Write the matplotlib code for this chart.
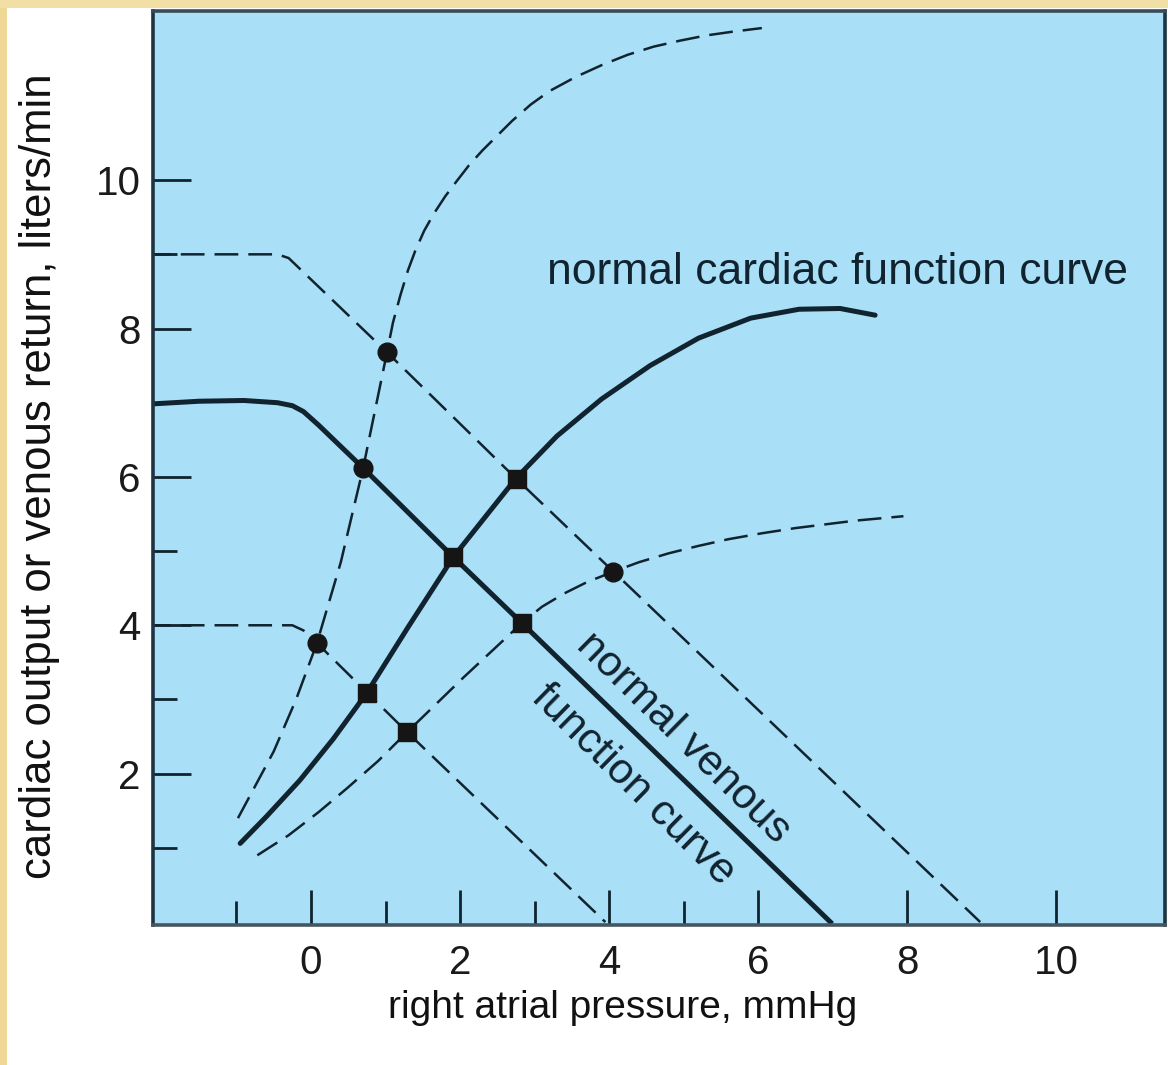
import matplotlib
matplotlib.use("Agg")
import matplotlib.pyplot as plt
from matplotlib.patches import Rectangle
from matplotlib.ticker import FixedLocator, NullFormatter

# --------------------------------------------------
# Data (x = right atrial pressure, y = flow)
# --------------------------------------------------
venous_normal_x = [-2.2, -1.5, -0.9, -0.45, -0.25, -0.1, 0.1, 0.70, 1.91, 2.83, 6.97]
venous_normal_y = [6.98, 7.02, 7.03, 7.0, 6.96, 6.88, 6.70, 6.12, 4.92, 4.03, 0.0]

venous_high_x = [-2.2, -0.45, -0.3, 1.02, 2.77, 8.98]
venous_high_y = [9.0, 9.0, 8.95, 7.68, 5.96, 0.0]

venous_low_x = [-2.2, -0.25, -0.1, 0.08, 1.29, 3.95]
venous_low_y = [4.0, 4.0, 3.93, 3.76, 2.56, 0.0]

cardiac_normal_x = [-0.95, -0.6, -0.15, 0.3, 0.75, 1.3, 1.91, 2.75, 3.3, 3.9,
                    4.55, 5.2, 5.9, 6.55, 7.1, 7.57]
cardiac_normal_y = [1.06, 1.42, 1.91, 2.47, 3.09, 3.97, 4.92, 5.98, 6.55, 7.05,
                    7.5, 7.87, 8.14, 8.26, 8.27, 8.18]

cardiac_high_x = [-0.98, -0.5, -0.2, 0.08, 0.4, 0.70, 1.02, 1.1, 1.2, 1.3, 1.4,
                  1.52, 1.65, 1.8, 1.95, 2.12, 2.3, 2.5, 2.7, 2.95, 3.2, 3.55,
                  3.9, 4.25, 4.6, 4.95, 5.3, 5.65, 6.05]
cardiac_high_y = [1.40, 2.3, 3.0, 3.76, 4.85, 6.12, 7.68, 8.08, 8.45, 8.78, 9.05,
                  9.32, 9.55, 9.78, 9.98, 10.2, 10.4, 10.6, 10.8, 11.02, 11.2, 11.39,
                  11.55, 11.69, 11.8, 11.88, 11.95, 12.0, 12.05]

cardiac_low_x = [-0.72, -0.3, 0.1, 0.48, 0.9, 1.29, 2.05, 2.83, 3.1, 3.4, 3.7, 4.05,
                 4.4, 4.8, 5.2, 5.6, 6.05, 6.5, 6.9, 7.3, 7.95]
cardiac_low_y = [0.90, 1.17, 1.48, 1.8, 2.17, 2.56, 3.3, 4.03, 4.25, 4.43, 4.58, 4.72,
                 4.85, 4.97, 5.07, 5.16, 5.24, 5.31, 5.36, 5.41, 5.47]

# equilibrium points where the curves cross
eq_x = [1.02, 0.70, 2.76, 1.91, 2.83, 4.05, 0.08, 0.75, 1.29]
eq_y = [7.68, 6.12, 5.97, 4.92, 4.03, 4.72, 3.76, 3.09, 2.56]
eq_marker = ["o", "o", "s", "s", "s", "o", "o", "s", "s"]

x_major = [0, 2, 4, 6, 8, 10]
x_minor = [-1, 1, 3, 5]
y_major = [2, 4, 6, 8, 10]
y_minor = [1, 3, 5, 7, 9]

INK = "#10232f"
BLUE = "#a9dff7"


def main():
    plt.rcParams["font.family"] = ["Liberation Sans", "DejaVu Sans"]

    fig = plt.figure(figsize=(11.68, 10.65), dpi=100, facecolor="white")

    # cream edge on top and left
    fig.patches.append(Rectangle((0, 0), 7 / 1168, 1, transform=fig.transFigure,
                                 facecolor="#efd796", edgecolor="none", zorder=0))
    fig.patches.append(Rectangle((0, 1 - 8 / 1065), 1, 8 / 1065, transform=fig.transFigure,
                                 facecolor="#f2dfa6", edgecolor="none", zorder=0))

    ax = fig.add_axes([153 / 1168, 140 / 1065, 1012 / 1168, 914 / 1065])
    ax.set_facecolor(BLUE)
    ax.set_xlim(-2.12, 11.46)
    ax.set_ylim(-0.04, 12.28)

    dash = (0, (9.5, 4.0))
    lw_d = 1.8
    lw_s = 3.6

    # venous return curves
    ax.plot(venous_normal_x, venous_normal_y, color=INK, lw=lw_s, solid_joinstyle="round")
    ax.plot(venous_high_x, venous_high_y, color=INK, lw=lw_d, linestyle=dash)
    ax.plot(venous_low_x, venous_low_y, color=INK, lw=lw_d, linestyle=dash)

    # cardiac function curves
    ax.plot(cardiac_normal_x, cardiac_normal_y, color=INK, lw=lw_s,
            solid_joinstyle="round", solid_capstyle="round")
    ax.plot(cardiac_high_x, cardiac_high_y, color=INK, lw=lw_d, linestyle=dash)
    ax.plot(cardiac_low_x, cardiac_low_y, color=INK, lw=lw_d, linestyle=dash)

    for x, y, m in zip(eq_x, eq_y, eq_marker):
        ms = 13.5 if m == "o" else 12.5
        ax.plot([x], [y], marker=m, ms=ms, color="#151515", mec="#151515", zorder=5)

    # text labels
    ax.text(4.99, 2.48, "normal venous", rotation=-44.5, rotation_mode="anchor",
            ha="center", va="center", fontsize=31, color=INK)
    ax.text(4.32, 1.85, "function curve", rotation=-44.5, rotation_mode="anchor",
            ha="center", va="center", fontsize=31, color=INK)
    ax.text(7.06, 8.76, "normal cardiac function curve", ha="center", va="center",
            fontsize=32, color=INK)

    # axes styling
    for side, col in [("left", "#1d3542"), ("right", "#1d3542"),
                      ("top", "#3a4b55"), ("bottom", "#47565e")]:
        ax.spines[side].set_color(col)
        ax.spines[side].set_linewidth(2.6)

    ax.xaxis.set_major_locator(FixedLocator(x_major))
    ax.xaxis.set_minor_locator(FixedLocator(x_minor))
    ax.yaxis.set_major_locator(FixedLocator(y_major))
    ax.yaxis.set_minor_locator(FixedLocator(y_minor))
    ax.xaxis.set_minor_formatter(NullFormatter())
    ax.yaxis.set_minor_formatter(NullFormatter())

    ax.tick_params(axis="both", which="both", direction="in", color=INK, width=2.0,
                   labelsize=29, labelcolor="#1a1a1a")
    ax.tick_params(axis="x", which="major", length=25, pad=14)
    ax.tick_params(axis="x", which="minor", length=17)
    ax.tick_params(axis="y", which="major", length=27, pad=9)
    ax.tick_params(axis="y", which="minor", length=17)

    fig.text(623 / 1168, 1 - 1008 / 1065, "right atrial pressure, mmHg",
             ha="center", va="center", fontsize=28, color="#111111")
    fig.text(40 / 1168, 1 - 476 / 1065, "cardiac output or venous return, liters/min",
             ha="center", va="center", rotation=90, fontsize=31.5, color="#111111")

    fig.savefig("out.png", dpi=100, facecolor=fig.get_facecolor())
    plt.close(fig)


if __name__ == "__main__":
    main()
